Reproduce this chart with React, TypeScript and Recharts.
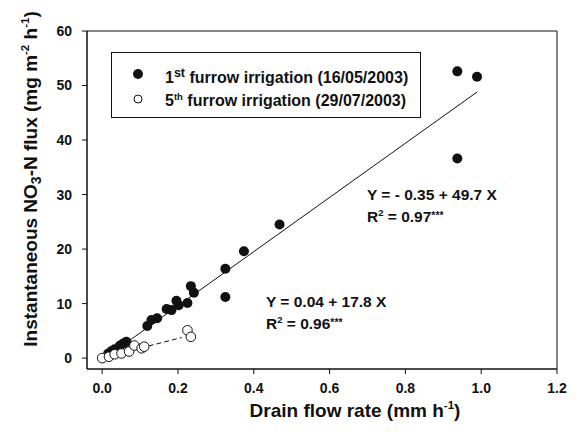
import {
  ComposedChart,
  ReferenceArea,
  Scatter,
  XAxis,
  YAxis,
} from 'recharts';

// 1st furrow irrigation (16/05/2003)
const firstX = [
  0.016, 0.025, 0.033, 0.047, 0.056, 0.064, 0.119, 0.13, 0.145, 0.17, 0.183, 0.196,
  0.202, 0.225, 0.234, 0.242, 0.325, 0.325, 0.374, 0.468, 0.937, 0.989, 0.937,
];
const firstY = [
  0.85, 1.3, 1.6, 2.3, 2.7, 3.0, 5.9, 7.0, 7.3, 9.0, 8.8, 10.5,
  9.7, 10.1, 13.2, 12.0, 16.4, 11.2, 19.6, 24.5, 52.6, 51.6, 36.6,
];

// 5th furrow irrigation (29/07/2003)
const fifthX = [0.0, 0.018, 0.033, 0.051, 0.071, 0.085, 0.104, 0.111, 0.225, 0.234];
const fifthY = [0.0, 0.25, 0.7, 0.85, 1.2, 2.3, 1.8, 2.1, 5.1, 3.9];

// regression fits: y = a + b x, drawn over the range of x
const firstFit = { a: -0.35, b: 49.7, from: 0, to: 0.99 };
const fifthFit = { a: 0.04, b: 17.8, from: 0, to: 0.21 };

const xTicks = [0, 0.2, 0.4, 0.6, 0.8, 1.0, 1.2];
const yTicks = [0, 10, 20, 30, 40, 50, 60];

const FONT = '"Liberation Sans", Arial, Helvetica, sans-serif';
const INK = '#111';

const firstData = firstX.map((x, i) => ({ x, y: firstY[i] }));
const fifthData = fifthX.map((x, i) => ({ x, y: fifthY[i] }));
const fitLine = (f: { a: number; b: number; from: number; to: number }) => [
  { x: f.from, y: f.a + f.b * f.from },
  { x: f.to, y: f.a + f.b * f.to },
];

const FilledDot = ({ cx, cy }: { cx?: number; cy?: number }) =>
  cx == null || cy == null ? <g /> : <circle cx={cx} cy={cy} r={5} fill={INK} />;

const OpenDot = ({ cx, cy }: { cx?: number; cy?: number }) =>
  cx == null || cy == null ? (
    <g />
  ) : (
    <circle cx={cx} cy={cy} r={4.8} fill="#fff" stroke={INK} strokeWidth={1} />
  );

const NoDot = () => <g />;

export default function App() {
  return (
    <div style={{ position: 'absolute', left: 0, top: 0, width: 580, height: 436, background: '#fff' }}>
      <ComposedChart
        width={580}
        height={436}
        margin={{ top: 31, right: 23, bottom: 37, left: 20 }}
        style={{ fontFamily: FONT }}
      >
        <XAxis
          type="number"
          dataKey="x"
          domain={[-0.04, 1.2]}
          ticks={xTicks}
          tickFormatter={(v: number) => v.toFixed(1)}
          allowDataOverflow
          height={30}
          tickSize={5}
          tickMargin={9}
          stroke={INK}
          tick={{ fill: INK, fontSize: 14, fontWeight: 'bold', fontFamily: FONT }}
        />
        <YAxis
          type="number"
          dataKey="y"
          domain={[-2, 60]}
          ticks={yTicks}
          allowDataOverflow
          width={67}
          tickSize={5}
          tickMargin={10}
          stroke={INK}
          tick={{ fill: INK, fontSize: 14, fontWeight: 'bold', fontFamily: FONT }}
        />
        <ReferenceArea
          x1={-0.04}
          x2={1.2}
          y1={-2}
          y2={60}
          fill="none"
          stroke={INK}
          strokeWidth={1}
        />
        <Scatter
          name="fit1"
          data={fitLine(firstFit)}
          line={{ stroke: INK, strokeWidth: 1 }}
          shape={NoDot}
          isAnimationActive={false}
        />
        <Scatter
          name="fit5"
          data={fitLine(fifthFit)}
          line={{ stroke: INK, strokeWidth: 1, strokeDasharray: '5 3' }}
          shape={NoDot}
          isAnimationActive={false}
        />
        <Scatter
          name="1st furrow irrigation (16/05/2003)"
          data={firstData}
          shape={FilledDot}
          isAnimationActive={false}
        />
        <Scatter
          name="5th furrow irrigation (29/07/2003)"
          data={fifthData}
          shape={OpenDot}
          isAnimationActive={false}
        />
        {/* legend box */}
        <g fontFamily={FONT} fontWeight="bold" fill={INK}>
          <rect x={111.5} y={52.5} width={309} height={65} fill="#fff" stroke={INK} strokeWidth={1} />
          <circle cx={138} cy={74} r={5} fill={INK} />
          <text x={165} y={83} fontSize={16}>
            1<tspan fontSize={12.5} dy={-6}>st</tspan>
            <tspan dy={6}> furrow irrigation (16/05/2003)</tspan>
          </text>
          <circle cx={138} cy={99} r={4} fill="#fff" stroke={INK} strokeWidth={1} />
          <text x={165} y={106} fontSize={16}>
            5<tspan fontSize={9.5} dy={-6}>th</tspan>
            <tspan dy={6}> furrow irrigation (29/07/2003)</tspan>
          </text>
        </g>
        <g fontFamily={FONT} fontWeight="bold" fill={INK}>
          <text x={367} y={200} fontSize={15.5}>Y = - 0.35 + 49.7 X</text>
          <text x={367} y={222} fontSize={15.5}>
            R<tspan fontSize={9.5} dy={-6}>2</tspan>
            <tspan dy={6}> = 0.97</tspan>
            <tspan fontSize={10.5} dy={-3}>***</tspan>
          </text>
          <text x={266} y={307} fontSize={15.5}>Y = 0.04 + 17.8 X</text>
          <text x={266} y={329} fontSize={15.5}>
            R<tspan fontSize={9.5} dy={-6}>2</tspan>
            <tspan dy={6}> = 0.96</tspan>
            <tspan fontSize={10.5} dy={-3}>***</tspan>
          </text>
          <text x={355} y={417} fontSize={19} textAnchor="middle">
            Drain flow rate (mm h<tspan fontSize={11.5} dy={-8}>-1</tspan>
            <tspan dy={8}>)</tspan>
          </text>
          <text x={37} y={179} fontSize={19} textAnchor="middle" transform="rotate(-90 37 179)">
            Instantaneous NO<tspan fontSize={14} dy={4}>3</tspan>
            <tspan dy={-4}>-N flux (mg m</tspan>
            <tspan fontSize={11.5} dy={-8}>-2</tspan>
            <tspan dy={8}> h</tspan>
            <tspan fontSize={11.5} dy={-8}>-1</tspan>
            <tspan dy={8}>)</tspan>
          </text>
        </g>
      </ComposedChart>
    </div>
  );
}
